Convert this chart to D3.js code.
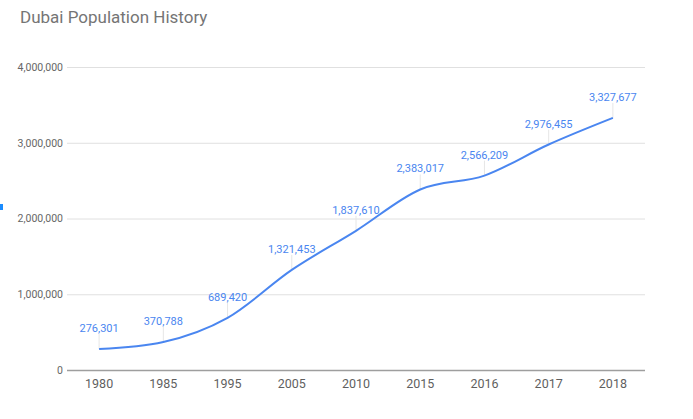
<!DOCTYPE html>
<html><head><meta charset="utf-8">
<script src="https://cdn.jsdelivr.net/npm/d3@7"></script>
<style>body{margin:0;background:#fff;}svg{display:block;font-family:Roboto,Arial,sans-serif;}</style>
</head><body>
<script>
const years = ["1980","1985","1995","2005","2010","2015","2016","2017","2018"];
const population = [276301,370788,689420,1321453,1837610,2383017,2566209,2976455,3327677];
const yTicks = [0,1000000,2000000,3000000,4000000];
const title = "Dubai Population History";

const W=693,H=419;
const m={left:67,right:48,top:67,bottom:49};
const svg=d3.select("body").append("svg").attr("width",W).attr("height",H);
const x=d3.scaleBand().domain(years).range([m.left,W-m.right]);
const y=d3.scaleLinear().domain([0,4000000]).range([H-m.bottom,m.top]);
const fmt=d3.format(",");

svg.append("text").attr("x",20).attr("y",23).attr("font-size",17).attr("fill","#757575").text(title);
svg.append("rect").attr("x",0).attr("y",204).attr("width",3).attr("height",6).attr("fill","#1a8cff");

const ya=svg.append("g").attr("transform",`translate(${m.left},0)`)
  .call(d3.axisLeft(y).tickValues(yTicks).tickFormat(fmt).tickSize(-(W-m.left-m.right)).tickPadding(4));
ya.select(".domain").remove();
ya.selectAll(".tick line").attr("stroke","#e0e0e0").attr("stroke-width",1);
ya.selectAll(".tick text").attr("fill","#666").attr("font-size",10.5).attr("font-family","Roboto,Arial,sans-serif");
ya.selectAll(".tick").filter(d=>d===0).select("line").attr("stroke","#9e9e9e").attr("stroke-width",1.5);

const xa=svg.append("g").attr("transform",`translate(0,${H-m.bottom})`)
  .call(d3.axisBottom(x).tickSize(0).tickPadding(9));
xa.select(".domain").remove();
xa.selectAll(".tick text").attr("fill","#5f5f5f").attr("font-size",12.5).attr("font-family","Roboto,Arial,sans-serif");

const cx=d=>x(d)+x.bandwidth()/2;
const pts=years.map((d,i)=>[cx(d),y(population[i])]);

svg.append("g").selectAll("line").data(pts).join("line")
  .attr("x1",d=>d[0]).attr("x2",d=>d[0]).attr("y1",d=>d[1]).attr("y2",d=>d[1]-15)
  .attr("stroke","#e6e6e6").attr("stroke-width",1);

svg.append("path").datum(pts).attr("fill","none").attr("stroke","#4a86f0").attr("stroke-width",2)
  .attr("d",d3.line().curve(d3.curveMonotoneX));

svg.append("g").selectAll("text").data(population).join("text")
  .attr("x",(d,i)=>pts[i][0]).attr("y",(d,i)=>pts[i][1]-17)
  .attr("text-anchor","middle").attr("font-size",11).attr("fill","#4a86f0").text(d=>fmt(d));
</script>
</body></html>
